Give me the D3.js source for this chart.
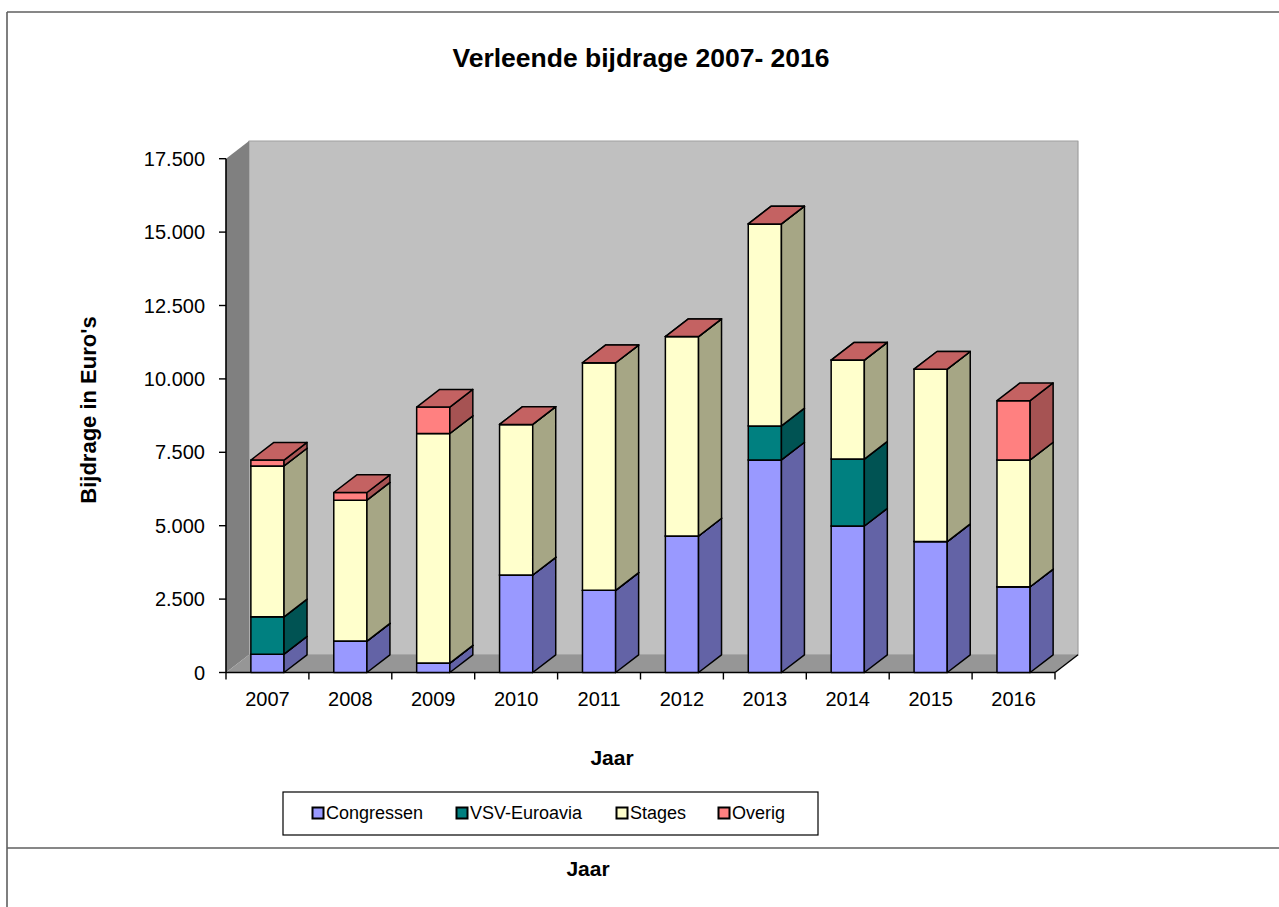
<!DOCTYPE html>
<html>
<head>
<meta charset="utf-8">
<script src="https://cdn.jsdelivr.net/npm/d3@7"></script>
<style>
    body { margin: 0; background: #fff; }
    svg { display: block; font-family: Arial, "Liberation Sans", sans-serif; }
</style>
</head>
<body>
<script>
const years = ["2007", "2008", "2009", "2010", "2011", "2012", "2013", "2014", "2015", "2016"]
const seriesNames = ["Congressen", "VSV-Euroavia", "Stages", "Overig"]
const congressen = [625, 1070, 320, 3320, 2800, 4650, 7240, 4990, 4460, 2920]
const vsvEuroavia = [1270, 0, 0, 0, 0, 0, 1160, 2280, 0, 0]
const stages = [5140, 4800, 7820, 5130, 7750, 6790, 6880, 3370, 5870, 4320]
const overig = [200, 260, 900, 0, 0, 0, 0, 0, 0, 2020]
const yTicks = [0, 2500, 5000, 7500, 10000, 12500, 15000, 17500]

// front, side, top colours per series
const faceColors = [
    ["#9999ff", "#6363a6", "#7676c4"],
    ["#008080", "#005353", "#006363"],
    ["#ffffcc", "#a6a685", "#c4c49d"],
    ["#ff8080", "#a65353", "#c46262"]
]

const width = 1279
const height = 907
const plotLeft = 226, plotRight = 1055
const plotBase = 672.5, plotTop = 158.7
const dx = 23, dy = -17.7

let nl = d3.formatLocale({ decimal: ",", thousands: ".", grouping: [3], currency: ["€", ""] })
let fmt = nl.format(",d")

let rows = years.map((yr, i) => ({
    year: yr,
    "Congressen": congressen[i],
    "VSV-Euroavia": vsvEuroavia[i],
    "Stages": stages[i],
    "Overig": overig[i]
}))
let stacked = d3.stack().keys(seriesNames)(rows)

let x = d3.scaleBand().domain(years).range([plotLeft, plotRight]).paddingInner(0.6).paddingOuter(0.3)
let xEdge = d3.scaleLinear().domain([0, years.length]).range([plotLeft, plotRight])
let y = d3.scaleLinear().domain([0, 17500]).range([plotBase, plotTop])

let svg = d3.select("body").append("svg").attr("width", width).attr("height", height)

function pts(arr) {
    return arr.map(p => p.join(",")).join(" ")
}

// outer frame lines
let frame = svg.append("g").attr("stroke", "#5f5f5f").attr("stroke-width", 1.6).attr("fill", "none")
frame.append("line").attr("x1", 7).attr("y1", 12).attr("x2", width).attr("y2", 12)
frame.append("line").attr("x1", 7).attr("y1", 12).attr("x2", 7).attr("y2", height)
frame.append("line").attr("x1", 7).attr("y1", 848).attr("x2", width).attr("y2", 848)

svg.append("text").attr("x", 641).attr("y", 67).attr("text-anchor", "middle")
    .attr("font-size", 26.5).attr("font-weight", "bold").text("Verleende bijdrage 2007- 2016")

// walls
let walls = svg.append("g").attr("stroke-linejoin", "round")
walls.append("polygon")
    .attr("points", pts([[plotLeft + dx, plotTop + dy], [plotRight + dx, plotTop + dy], [plotRight + dx, plotBase + dy], [plotLeft + dx, plotBase + dy]]))
    .attr("fill", "#c0c0c0").attr("stroke", "#a0a0a0").attr("stroke-width", 1.2)
walls.append("polygon")
    .attr("points", pts([[plotLeft, plotTop], [plotLeft + dx, plotTop + dy], [plotLeft + dx, plotBase + dy], [plotLeft, plotBase]]))
    .attr("fill", "#808080")
walls.append("polygon")
    .attr("points", pts([[plotLeft, plotBase], [plotRight, plotBase], [plotRight + dx, plotBase + dy], [plotLeft + dx, plotBase + dy]]))
    .attr("fill", "#969696")
walls.append("line")
    .attr("x1", plotRight).attr("y1", plotBase).attr("x2", plotRight + dx).attr("y2", plotBase + dy)
    .attr("stroke", "#000").attr("stroke-width", 1.4)

// y axis
let yAxis = svg.append("g")
yAxis.append("line").attr("x1", plotLeft).attr("x2", plotLeft).attr("y1", plotTop).attr("y2", plotBase)
    .attr("stroke", "#000").attr("stroke-width", 1.6)
yAxis.selectAll(".ytick").data(yTicks).enter().append("line")
    .attr("x1", plotLeft - 7).attr("x2", plotLeft).attr("y1", d => y(d)).attr("y2", d => y(d))
    .attr("stroke", "#000").attr("stroke-width", 1.4)
yAxis.selectAll("text").data(yTicks).enter().append("text")
    .attr("x", plotLeft - 21).attr("y", d => y(d)).attr("dy", "0.35em")
    .attr("text-anchor", "end").attr("font-size", 20).text(d => fmt(d))

// x axis
let xAxis = svg.append("g")
xAxis.append("line").attr("x1", plotLeft).attr("x2", plotRight).attr("y1", plotBase).attr("y2", plotBase)
    .attr("stroke", "#000").attr("stroke-width", 1.6)
xAxis.selectAll(".xtick").data(d3.range(years.length + 1)).enter().append("line")
    .attr("x1", d => xEdge(d)).attr("x2", d => xEdge(d)).attr("y1", plotBase).attr("y2", plotBase + 7)
    .attr("stroke", "#000").attr("stroke-width", 1.4)
xAxis.selectAll("text").data(years).enter().append("text")
    .attr("x", d => xEdge(years.indexOf(d) + 0.5)).attr("y", plotBase + 33)
    .attr("text-anchor", "middle").attr("font-size", 20).text(d => d)

// bars, drawn bottom segment first so upper segments hide lower tops
let bars = svg.append("g").attr("stroke", "#000").attr("stroke-width", 1.5).attr("stroke-linejoin", "round")
years.forEach((yr, i) => {
    let xl = x(yr), xr = x(yr) + x.bandwidth()
    stacked.forEach((layer, s) => {
        let yb = y(layer[i][0]), yt = y(layer[i][1])
        let g = bars.append("g")
        g.append("polygon").attr("fill", faceColors[s][0])
            .attr("points", pts([[xl, yt], [xr, yt], [xr, yb], [xl, yb]]))
        g.append("polygon").attr("fill", faceColors[s][1])
            .attr("points", pts([[xr, yb], [xr, yt], [xr + dx, yt + dy], [xr + dx, yb + dy]]))
        g.append("polygon").attr("fill", faceColors[s][2])
            .attr("points", pts([[xl, yt], [xr, yt], [xr + dx, yt + dy], [xl + dx, yt + dy]]))
    })
})

// axis titles
svg.append("text").attr("transform", "translate(96,410) rotate(-90)")
    .attr("text-anchor", "middle").attr("font-size", 22).attr("font-weight", "bold").text("Bijdrage in Euro's")
svg.append("text").attr("x", 612).attr("y", 765).attr("text-anchor", "middle")
    .attr("font-size", 21).attr("font-weight", "bold").text("Jaar")

// legend
let legendX = [318, 462, 622, 724]
let legend = svg.append("g")
legend.append("rect").attr("x", 283).attr("y", 792).attr("width", 535).attr("height", 43)
    .attr("fill", "#fff").attr("stroke", "#000").attr("stroke-width", 1.2)
let items = legend.selectAll(".item").data(seriesNames).enter().append("g")
    .attr("transform", (d, i) => "translate(" + legendX[i] + ",813)")
items.append("rect").attr("x", -5.5).attr("y", -5.5).attr("width", 11).attr("height", 11)
    .attr("fill", (d, i) => faceColors[i][0]).attr("stroke", "#000").attr("stroke-width", 2)
items.append("text").attr("x", 8).attr("dy", "0.35em").attr("font-size", 18).text(d => d)

// second chart's title peeking in at the bottom
svg.append("text").attr("x", 588).attr("y", 876).attr("text-anchor", "middle")
    .attr("font-size", 21).attr("font-weight", "bold").text("Jaar")
</script>
</body>
</html>
